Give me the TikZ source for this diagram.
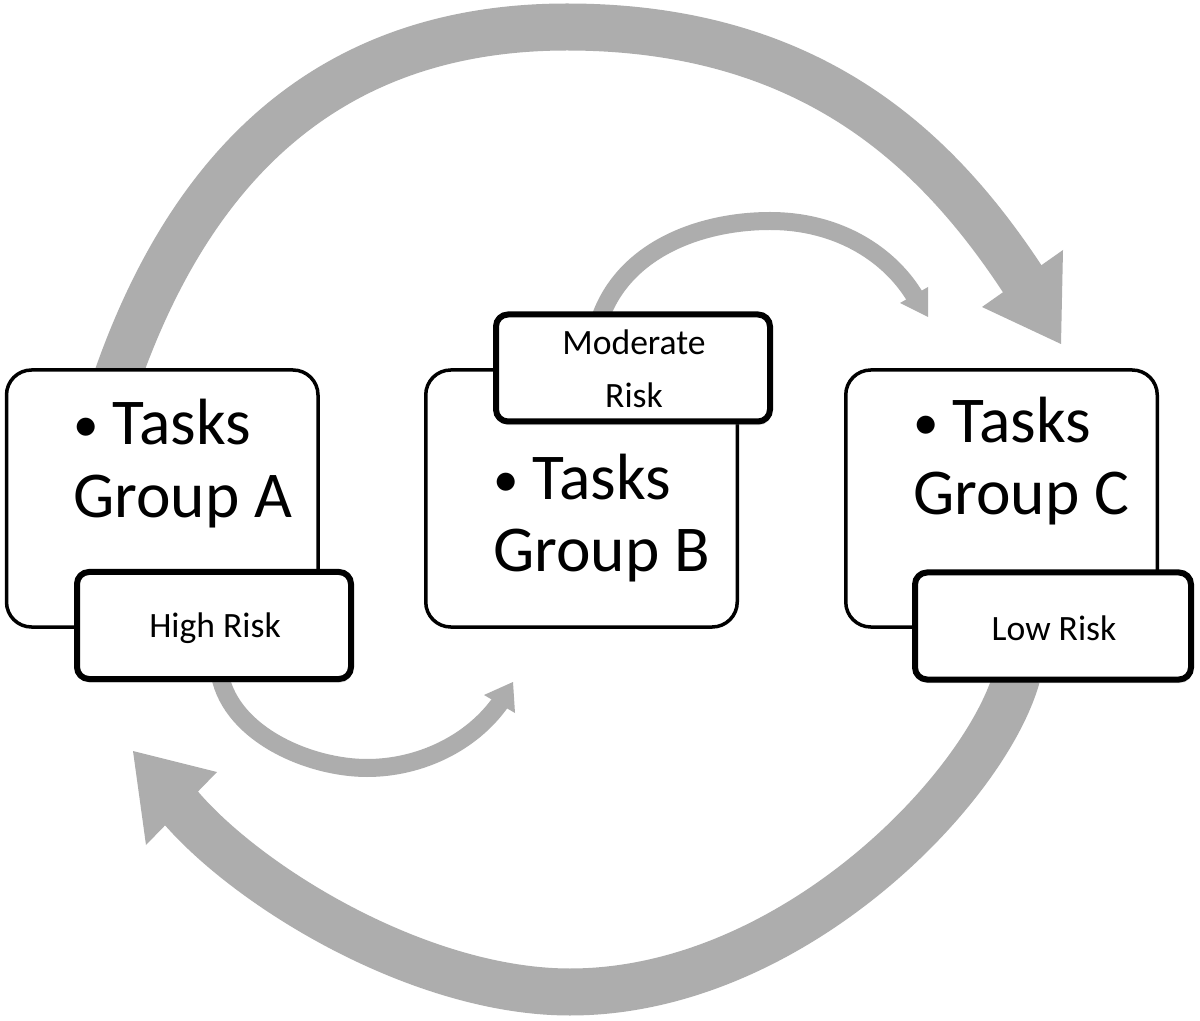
\documentclass[tikz,border=0pt]{standalone}
\usepackage{fontspec}
\setmainfont{Carlito}
\usetikzlibrary{calc,shadows}
\definecolor{arrowgray}{RGB}{173,173,173}
\pgfdeclarelayer{bg}
\pgfsetlayers{bg,main}
\newcommand{\mybul}{\makebox[19.5pt][l]{\raisebox{1.8pt}{\scalebox{0.78}{•}}}}
\tikzset{
  taskbox/.style={draw=black, fill=white, line width=1.75pt, rounded corners=12.5pt,
    minimum width=155.75pt, minimum height=128.5pt, inner sep=0pt},
  riskbox/.style={draw=black, fill=white, line width=3pt, rounded corners=6pt,
    minimum width=137pt, minimum height=53.5pt, inner sep=0pt,
    drop shadow={shadow xshift=0.6pt, shadow yshift=-1.8pt, opacity=0.3}},
  bigtext/.style={font=\fontsize{32.7}{36}\selectfont, anchor=base west, inner sep=0pt},
  risktext/.style={font=\fontsize{17.8}{26.5}\selectfont, anchor=base, inner sep=0pt},
  bigshaft/.style={draw=arrowgray, line width=23.5pt},
  smallshaft/.style={draw=arrowgray, line width=9pt},
  headtip/.style={fill=arrowgray, draw=none}
}
\begin{document}
\begin{tikzpicture}[x=0.5pt,y=-0.5pt]
\useasboundingbox (0,0) rectangle (1200,1021);

% boxes
\node[taskbox] (boxA) at (162.25,498.5) {};
\node[riskbox] (high) at (214,625.5) {};
\node[taskbox] (boxB) at (581.5,498.5) {};
\node[riskbox] (mod) at (633,368) {};
\node[taskbox] (boxC) at (1001.5,498.5) {};
\node[riskbox, minimum width=138pt] (low) at (1053,626) {};

% texts
\node[bigtext] (txtA) at (73,445) {\begin{tabular}[t]{@{}l@{}}\mybul Tasks\\Group A\end{tabular}};
\node[bigtext] (txtB) at (493,500) {\begin{tabular}[t]{@{}l@{}}\mybul Tasks\\Group B\end{tabular}};
\node[bigtext] (txtC) at (913,443) {\begin{tabular}[t]{@{}l@{}}\mybul Tasks\\Group C\end{tabular}};
\node[risktext] (txtH) at (215,638) {High Risk};
\node[risktext] (txtL) at (1054,640) {Low Risk};
\node[risktext] (txtM) at (634,355) {\begin{tabular}[t]{@{}c@{}}Moderate\\Risk\end{tabular}};

% arrows behind
\begin{pgfonlayer}{bg}
\fill[white] (0,0) rectangle (1200,1021);
% big top arrow: A -> C
\coordinate (t0) at ($(boxA.center)+(-46,-118.5)$);
\coordinate (t1) at (567,27);
\coordinate (t2) at (1025,283);
\draw[bigshaft] (t0) .. controls (186,180) and (317,27) .. (t1)
  .. controls (817,27) and (942,156) .. (t2);
\fill[headtip] (1063,250) -- (982,307) -- (1061,344) -- cycle;
% big bottom arrow: C -> A
\coordinate (b0) at ($(low.center)+(-36,50)$);
\coordinate (b1) at (570,992);
\coordinate (b2) at (179,805.5);
\draw[bigshaft] (b0) .. controls (985,790) and (790,992) .. (b1)
  .. controls (420,992) and (248,887) .. (b2);
\fill[headtip] (133,751) -- (217,772) -- (146,845) -- cycle;
% small lower arrow: A -> B
\coordinate (s0) at ($(high.center)+(6,50)$);
\coordinate (s1) at (367,768);
\coordinate (s2) at (501,701.5);
\draw[smallshaft] (s0) .. controls (232,735) and (310,768) .. (s1)
  .. controls (420,768) and (472,743) .. (s2);
\fill[headtip] (513,682) -- (484,695) -- (515,713) -- cycle;
% small upper arrow: B -> C
\coordinate (u0) at ($(mod.center)+(-35,-43)$);
\coordinate (u1) at (770,221);
\coordinate (u2) at (915.5,297.6);
\draw[smallshaft] (u0) .. controls (620,250) and (700,221) .. (u1)
  .. controls (840,221) and (891,256) .. (u2);
\fill[headtip] (928,287) -- (900,303) -- (928,317) -- cycle;
\end{pgfonlayer}
\end{tikzpicture}
\end{document}
